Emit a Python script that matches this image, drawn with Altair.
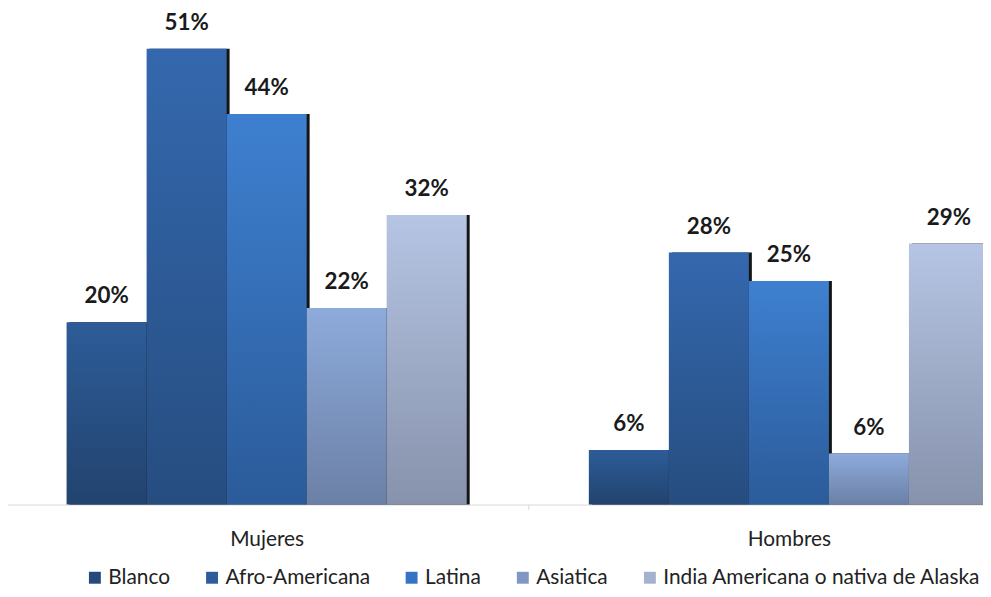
import altair as alt
import pandas as pd

groups = ["Mujeres", "Hombres"]
series = ["Blanco", "Afro-Americana", "Latina", "Asiatica", "India Americana o nativa de Alaska"]
mujeres = [20.4, 51.0, 43.7, 22.0, 32.4]
hombres = [6.1, 28.2, 25.0, 5.7, 29.2]

top_colors = ["#2D5C98", "#3468AE", "#3E80D0", "#8DABDB", "#B5C5E3"]
bottom_colors = ["#22436E", "#264D80", "#2B5B9A", "#6B80A6", "#8792AC"]
legend_colors = ["#25497A", "#2C5C9C", "#3574C4", "#7F97C2", "#A5B2CF"]

rows = []
for g, vals in zip(groups, [mujeres, hombres]):
    for s, v in zip(series, vals):
        rows.append({"grupo": g, "serie": s, "valor": v})
df = pd.DataFrame(rows)

FONT = "Lato"
X_RANGE = [-3.5, 1048.5]
PAD_OUT = 0.763

x_enc = alt.X("grupo:N", sort=groups,
              scale=alt.Scale(domain=groups, range=X_RANGE, paddingInner=0, paddingOuter=0),
              axis=alt.Axis(title=None, labelAngle=0, labelFont=FONT, labelFontSize=21,
                            labelColor="#222222", domainColor="#D9D9D9", tickColor="#D9D9D9",
                            tickSize=5, tickBand="extent", labelPadding=19))
xo_enc = alt.XOffset("serie:N", sort=series,
                     scale=alt.Scale(domain=series, paddingInner=0, paddingOuter=PAD_OUT))
xo_shadow = alt.XOffset("serie:N", sort=series,
                        scale=alt.Scale(domain=series, paddingInner=0, paddingOuter=PAD_OUT,
                                        range=[3, 529]))
y_enc = alt.Y("valor:Q", scale=alt.Scale(domain=[0, 55], nice=False), axis=None)

base = alt.Chart(df)

shadow = base.mark_bar(color="#151515").encode(x=x_enc, xOffset=xo_shadow, y=y_enc)

bar_layers = []
for s, tc, bc in zip(series, top_colors, bottom_colors):
    grad = alt.Gradient(gradient="linear",
                        stops=[alt.GradientStop(color=tc, offset=0),
                               alt.GradientStop(color=bc, offset=1)],
                        x1=0, x2=0, y1=0, y2=1)
    bar_layers.append(
        base.mark_bar(color=grad).encode(x=x_enc, xOffset=xo_enc, y=y_enc)
        .transform_filter(alt.datum.serie == s)
    )

labels = base.mark_text(font=FONT, fontSize=22.5, fontWeight="bold", color="#1a1a1a",
                        baseline="alphabetic", dy=-19).encode(
    x=x_enc, xOffset=xo_enc, y=y_enc,
    text=alt.Text("etiqueta:N"),
).transform_calculate(etiqueta="format(datum.valor, '.0f') + '%'")

legend_layer = base.mark_point(shape="square", filled=True, opacity=0).encode(
    x=x_enc, xOffset=xo_enc, y=alt.value(0),
    color=alt.Color("serie:N", sort=series,
                    scale=alt.Scale(domain=series, range=legend_colors),
                    legend=alt.Legend(title=None, orient="none", direction="horizontal",
                                      legendX=76, legendY=558, symbolType="square",
                                      symbolSize=144, symbolOpacity=1, symbolStrokeWidth=0,
                                      labelFont=FONT, labelFontSize=21, labelColor="#222222",
                                      labelLimit=0, labelOffset=3, columnPadding=31)),
)

bars = alt.layer(*bar_layers, labels, legend_layer)

chart = alt.layer(shadow, bars).resolve_scale(xOffset="independent").properties(
    width=981, height=495,
    autosize=alt.AutoSizeParams(type="none"),
    padding={"left": 1, "top": 3, "right": 0, "bottom": 83},
).configure_view(stroke=None)

chart.save("out.html", embed_options={"renderer": "svg", "actions": False})
